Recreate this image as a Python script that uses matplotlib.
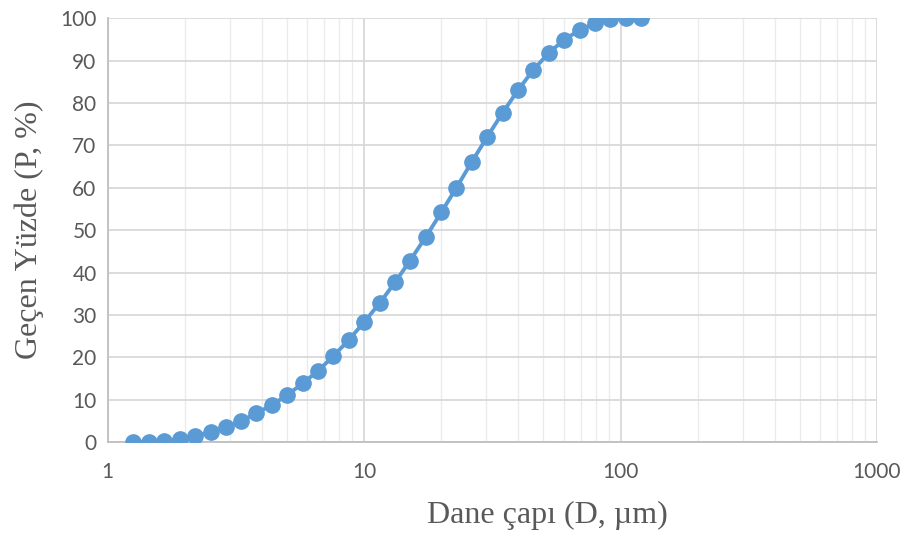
import matplotlib.pyplot as plt
from matplotlib.ticker import FixedLocator, LogLocator, NullFormatter

# particle size (µm) and cumulative passing (%)
size_um = [1.26, 1.45, 1.66, 1.91, 2.19, 2.52, 2.89, 3.31, 3.80, 4.37,
           5.02, 5.76, 6.61, 7.59, 8.71, 10.0, 11.5, 13.2, 15.1, 17.4,
           20.0, 22.9, 26.3, 30.2, 34.7, 39.8, 45.7, 52.5, 60.3, 69.2,
           79.4, 91.2, 104.7, 120.2]
passing = [0.05, 0.1, 0.3, 0.7, 1.4, 2.4, 3.5, 5.0, 6.8, 8.8,
           11.1, 13.9, 16.8, 20.3, 24.1, 28.3, 32.8, 37.7, 42.8, 48.4,
           54.2, 60.0, 66.1, 72.0, 77.7, 83.0, 87.8, 91.8, 94.9, 97.2,
           98.8, 99.7, 100.0, 100.0]
x_ticks = [1, 10, 100, 1000]
x_tick_labels = ["1", "10", "100", "1000"]
y_ticks = [0, 10, 20, 30, 40, 50, 60, 70, 80, 90, 100]

fig = plt.figure(figsize=(9.05, 5.34), dpi=100)
ax = fig.add_axes([0.119, 0.172, 0.850, 0.794])

ax.plot(size_um, passing, color="#5B9BD5", linewidth=2.8, marker="o",
        markersize=11, zorder=3)

ax.set_xscale("log")
ax.set_xlim(1, 1000)
ax.set_ylim(0, 100)
ax.xaxis.set_major_locator(FixedLocator(x_ticks))
ax.set_xticklabels(x_tick_labels)
ax.xaxis.set_minor_locator(LogLocator(base=10, subs=range(2, 10)))
ax.xaxis.set_minor_formatter(NullFormatter())
ax.set_yticks(y_ticks)

ax.grid(True, which="major", color="#D9D9D9", linewidth=1.3)
ax.grid(True, which="minor", axis="x", color="#EBEBEB", linewidth=1.0)
ax.set_axisbelow(True)

for side in ("top", "right"):
    ax.spines[side].set_visible(False)
for side in ("left", "bottom"):
    ax.spines[side].set_color("#BFBFBF")
    ax.spines[side].set_linewidth(1.3)

ax.tick_params(which="both", length=0, labelsize=15, labelcolor="#595959",
               pad=8)
for lbl in ax.get_xticklabels() + ax.get_yticklabels():
    lbl.set_fontfamily("Lato")
ax.tick_params(axis="x", pad=14)

ax.set_xlabel("Dane çapı (D, µm)", family="Liberation Serif", fontsize=23,
              color="#595959")
ax.xaxis.set_label_coords(0.571, -0.138)
ax.set_ylabel("Geçen Yüzde (P, %)", family="Liberation Serif", fontsize=23,
              color="#595959", labelpad=12)

fig.savefig("out.png", dpi=100)
